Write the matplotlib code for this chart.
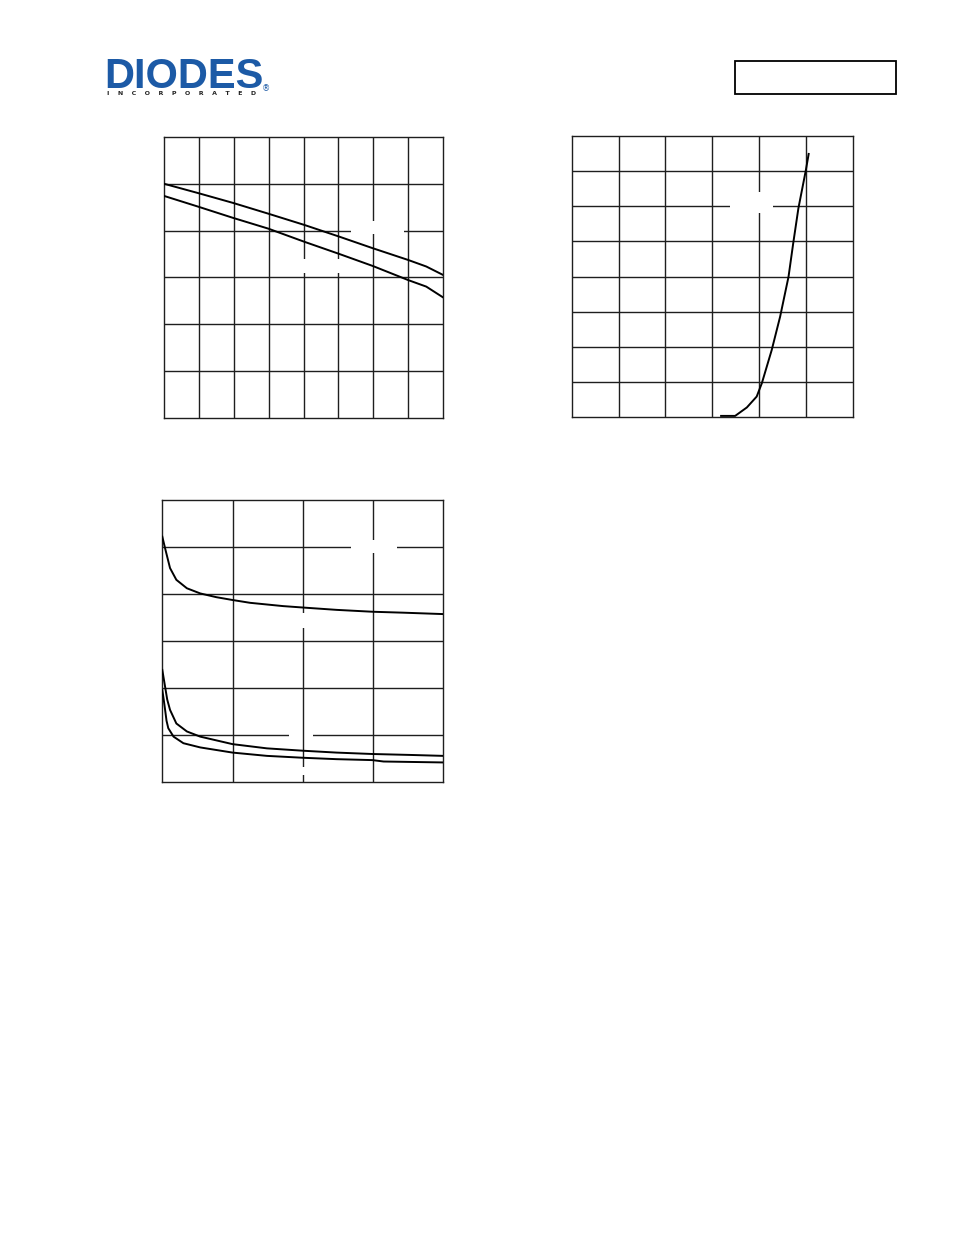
import matplotlib
matplotlib.use("Agg")
import matplotlib.pyplot as plt
from matplotlib.patches import Rectangle

W, H = 954, 1235

# --- chart 1 (8 x 6 grid), two falling curves ---
c1_x = [0, 0.98, 1.98, 2.99, 4.02, 5.02, 5.99, 7.0, 7.52, 8.0]
c1_upper = [5.0, 4.80, 4.59, 4.36, 4.12, 3.87, 3.62, 3.37, 3.23, 3.05]
c1_lower = [4.74, 4.51, 4.27, 4.04, 3.76, 3.50, 3.24, 2.94, 2.80, 2.57]

# --- chart 2 (6 x 8 grid), steep rising curve ---
c2_x = [3.19, 3.49, 3.74, 3.95, 4.06, 4.27, 4.45, 4.63, 4.73, 4.84, 5.0, 5.06]
c2_y = [0.04, 0.04, 0.28, 0.59, 0.97, 1.91, 2.86, 4.0, 4.95, 5.94, 7.03, 7.49]

# --- chart 3 (4 x 6 grid), three decaying curves ---
c3a_x = [0, 0.04, 0.11, 0.20, 0.35, 0.54, 0.77, 1.0, 1.25, 1.72, 2.0, 2.48, 2.99, 3.43, 4.0]
c3a_y = [5.22, 4.97, 4.55, 4.30, 4.12, 4.01, 3.93, 3.87, 3.81, 3.74, 3.71, 3.66, 3.62, 3.60, 3.57]
c3b_x = [0, 0.02, 0.04, 0.07, 0.11, 0.20, 0.35, 0.54, 1.0, 1.49, 2.0, 2.48, 2.99, 3.53, 4.0]
c3b_y = [2.38, 2.20, 2.02, 1.75, 1.53, 1.24, 1.07, 0.96, 0.80, 0.71, 0.66, 0.62, 0.59, 0.57, 0.55]
c3c_x = [0, 0.02, 0.04, 0.06, 0.085, 0.16, 0.30, 0.54, 1.0, 1.49, 2.0, 2.48, 2.99, 3.15, 4.0]
c3c_y = [1.95, 1.75, 1.53, 1.30, 1.14, 0.96, 0.82, 0.73, 0.62, 0.55, 0.51, 0.48, 0.46, 0.43, 0.41]

logo_sub = "INCORPORATED"


def px_axes(fig, left, top, right, bottom):
    return fig.add_axes([left / W, 1 - bottom / H, (right - left) / W, (bottom - top) / H])


def grid_box(ax, nx, ny):
    ax.set_xlim(0, nx)
    ax.set_ylim(0, ny)
    ax.set_xticks([])
    ax.set_yticks([])
    for i in range(1, ny):
        ax.axhline(i, color="#1e1e1e", lw=1.0, zorder=1)
    for i in range(1, nx):
        ax.axvline(i, color="#1e1e1e", lw=1.0, zorder=2)
    for sp in ax.spines.values():
        sp.set_linewidth(1.0)
        sp.set_color("#1e1e1e")


def blank(fig, ax, left, top, right, bottom, z=2.5):
    # white patch where a label used to sit on the grid
    ax.add_patch(Rectangle((left / W, 1 - bottom / H), (right - left) / W, (bottom - top) / H,
                           transform=fig.transFigure, facecolor="white", edgecolor="none",
                           zorder=z, clip_on=False))


fig = plt.figure(figsize=(W / 100, H / 100), dpi=100)

# logo
fig.text(104 / W, 1 - 87.5 / H, "DIODES", fontsize=30, fontweight="bold",
         family="Liberation Sans", color="#1c5aa6", ha="left", va="baseline")
fig.text(107 / W, 1 - 95 / H, "    ".join(logo_sub), fontsize=4.5, fontweight="bold",
         color="#222222", ha="left", va="baseline")
fig.text(262 / W, 1 - 91 / H, "®", fontsize=6, color="#1c5aa6", ha="left", va="baseline")

# empty box top right
fig.add_artist(Rectangle((735 / W, 1 - 94 / H), 161 / W, 33 / H, transform=fig.transFigure,
                         facecolor="none", edgecolor="black", lw=1.3))

lw = 1.4

ax1 = px_axes(fig, 164, 137, 443, 417.5)
grid_box(ax1, 8, 6)
ax1.plot(c1_x, c1_upper, color="black", lw=lw, zorder=3)
ax1.plot(c1_x, c1_lower, color="black", lw=lw, zorder=3)
blank(fig, ax1, 351, 221, 404, 233.5)
blank(fig, ax1, 298, 259.3, 346, 273.3)

ax2 = px_axes(fig, 571.7, 136, 852.7, 417.3)
grid_box(ax2, 6, 8)
ax2.plot(c2_x, c2_y, color="black", lw=lw, zorder=3)
blank(fig, ax2, 730, 191.7, 773, 213)

ax3 = px_axes(fig, 162.3, 500, 443.3, 781.7)
grid_box(ax3, 4, 6)
ax3.plot(c3a_x, c3a_y, color="black", lw=lw, zorder=3)
ax3.plot(c3b_x, c3b_y, color="black", lw=lw, zorder=3)
ax3.plot(c3c_x, c3c_y, color="black", lw=lw, zorder=3)
blank(fig, ax3, 350.7, 540, 397.3, 553.3)
blank(fig, ax3, 296, 612.7, 311, 628.3)
blank(fig, ax3, 289, 731.5, 312.7, 736.5, z=1.5)
blank(fig, ax3, 296, 766.7, 311, 775)

fig.savefig("out.png", dpi=100)
